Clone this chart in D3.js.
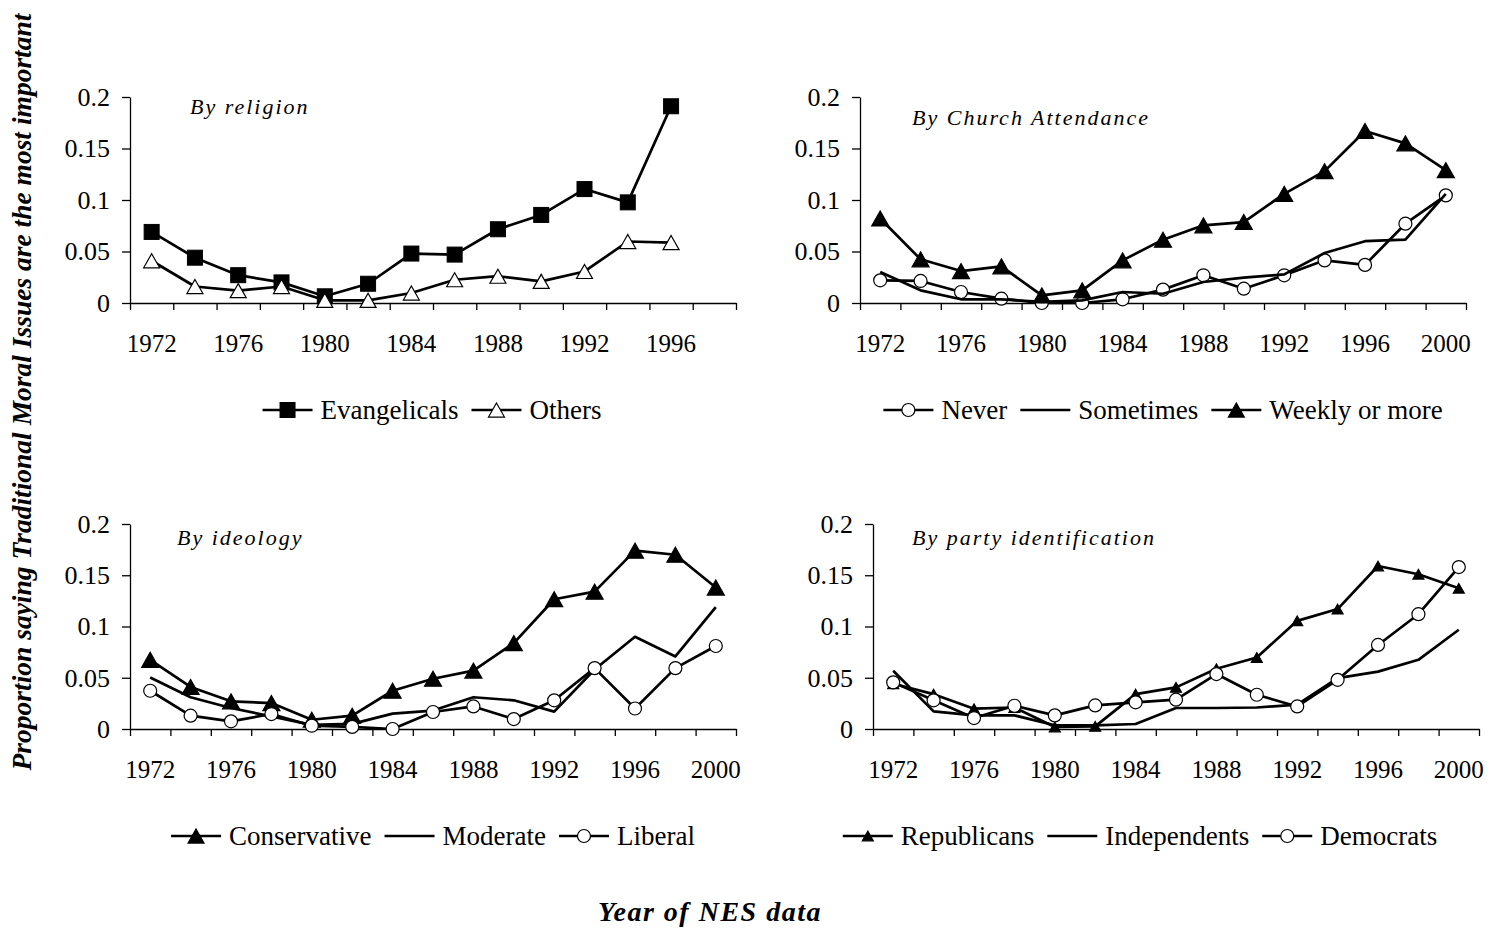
<!DOCTYPE html>
<html>
<head>
<meta charset="utf-8">
<script src="https://cdn.jsdelivr.net/npm/d3@7"></script>
<style>
  body { margin: 0; background: #fff; }
  svg { font-family: "Liberation Serif", "Times New Roman", serif; }
</style>
</head>
<body>
<svg id="chart" width="1490" height="931"></svg>
<script>
// categories
const years = [1972, 1974, 1976, 1978, 1980, 1982, 1984, 1986, 1988, 1990, 1992, 1994, 1996, 1998, 2000];
const religionYears = years.slice(0, 14);
const yTicks = [0, 0.05, 0.1, 0.15, 0.2];

// By religion
const evangelicals = [0.069, 0.044, 0.027, 0.020, 0.0065, 0.0187, 0.048, 0.047, 0.0716, 0.0855, 0.1106, 0.0977, 0.191, null];
const others = [0.041, 0.016, 0.012, 0.016, 0.0026, 0.0026, 0.0097, 0.0226, 0.026, 0.021, 0.0306, 0.0597, 0.0587, null];

// By church attendance
const never = [0.022, 0.0214, 0.0107, 0.0042, 0, 0, 0.0036, 0.013, 0.0269, 0.0139, 0.0269, 0.0414, 0.037, 0.077, 0.1045];
const sometimes = [0.030, 0.0123, 0.0036, 0.0036, 0.001, 0.0026, 0.0107, 0.009, 0.0204, 0.0246, 0.0278, 0.0485, 0.060, 0.0615, 0.106];
const weekly = [0.082, 0.0424, 0.031, 0.0356, 0.0074, 0.0123, 0.0414, 0.0615, 0.0754, 0.0786, 0.106, 0.128, 0.167, 0.155, 0.129];

// By ideology
const conservative = [0.0675, 0.041, 0.027, 0.0253, 0.009, 0.013, 0.0373, 0.049, 0.057, 0.0838, 0.1266, 0.134, 0.174, 0.170, 0.138];
const moderate = [0.0503, 0.031, 0.0205, 0.0123, 0.004, 0.005, 0.015, 0.018, 0.031, 0.028, 0.017, 0.058, 0.090, 0.0708, 0.119];
const liberal = [0.0373, 0.013, 0.0075, 0.0146, 0.0032, 0.002, 0, 0.0166, 0.022, 0.0097, 0.028, 0.0594, 0.020, 0.0594, 0.081];

// By party identification
const republicans = [0.0442, 0.034, 0.0198, 0.021, 0.002, 0.0026, 0.034, 0.0406, 0.0588, 0.0698, 0.1055, 0.117, 0.159, 0.151, 0.1373];
const independents = [0.0568, 0.0172, 0.0133, 0.0133, 0.0036, 0.0036, 0.0049, 0.0205, 0.0205, 0.021, 0.0237, 0.0497, 0.056, 0.0675, 0.0968];
const democrats = [0.0455, 0.028, 0.0107, 0.0227, 0.0133, 0.023, 0.026, 0.0286, 0.0536, 0.0334, 0.022, 0.048, 0.082, 0.112, 0.158];

const panels = [
  {
    title: "By religion", cats: religionYears,
    x0: 130, x1: 736, yTop: 97, yBottom: 303, titleX: 190, titleY: 114,
    legendCx: 432, legendY: 410,
    series: [
      { name: "Evangelicals", values: evangelicals, marker: "square", size: 15, fill: "#000" },
      { name: "Others", values: others, marker: "triangle", size: 16, fill: "#fff" }
    ]
  },
  {
    title: "By Church Attendance", cats: years,
    x0: 860, x1: 1466, yTop: 97, yBottom: 303, titleX: 912, titleY: 125,
    legendCx: 1163, legendY: 410,
    series: [
      { name: "Never", values: never, marker: "circle", size: 6.5, fill: "#fff" },
      { name: "Sometimes", values: sometimes, marker: "none" },
      { name: "Weekly or more", values: weekly, marker: "triangle", size: 17, fill: "#000" }
    ]
  },
  {
    title: "By ideology", cats: years,
    x0: 130, x1: 736, yTop: 524, yBottom: 729, titleX: 177, titleY: 545,
    legendCx: 433, legendY: 836,
    series: [
      { name: "Conservative", values: conservative, marker: "triangle", size: 17, fill: "#000" },
      { name: "Moderate", values: moderate, marker: "none" },
      { name: "Liberal", values: liberal, marker: "circle", size: 6.5, fill: "#fff" }
    ]
  },
  {
    title: "By party identification", cats: years,
    x0: 873, x1: 1479, yTop: 524, yBottom: 729, titleX: 912, titleY: 545,
    legendCx: 1140, legendY: 836,
    series: [
      { name: "Republicans", values: republicans, marker: "triangle", size: 11, fill: "#000" },
      { name: "Independents", values: independents, marker: "none" },
      { name: "Democrats", values: democrats, marker: "circle", size: 6.5, fill: "#fff" }
    ]
  }
];

const svg = d3.select("#chart");

function drawMarker(g, s, cx, cy) {
  if (s.marker === "square") {
    g.append("rect")
      .attr("x", cx - s.size / 2).attr("y", cy - s.size / 2)
      .attr("width", s.size).attr("height", s.size)
      .attr("fill", s.fill).attr("stroke", "#000").attr("stroke-width", 1);
  } else if (s.marker === "triangle") {
    const h = s.size * 0.88;
    g.append("path")
      .attr("d", `M${cx},${cy - h / 2}L${cx + s.size / 2},${cy + h / 2}L${cx - s.size / 2},${cy + h / 2}Z`)
      .attr("fill", s.fill).attr("stroke", "#000").attr("stroke-width", 1.2);
  } else if (s.marker === "circle") {
    g.append("circle")
      .attr("cx", cx).attr("cy", cy).attr("r", s.size)
      .attr("fill", s.fill).attr("stroke", "#000").attr("stroke-width", 1.2);
  }
}

panels.forEach(p => {
  const n = p.cats.length;
  const x = d3.scaleLinear().domain([0, n]).range([p.x0, p.x1]);
  const y = d3.scaleLinear().domain([0, 0.2]).range([p.yBottom, p.yTop]);
  const g = svg.append("g");

  // Y axis
  const yAxis = g.append("g")
    .attr("transform", `translate(${p.x0},0)`)
    .call(d3.axisLeft(y).tickValues(yTicks).tickFormat(d => String(d)).tickSize(8).tickPadding(12).tickSizeOuter(0));
  yAxis.selectAll("text").style("font-size", "26px").attr("fill", "#000").attr("font-family", "Liberation Serif");
  yAxis.selectAll("line").attr("stroke", "#000").attr("stroke-width", 1.3);
  yAxis.select(".domain").attr("stroke", "#000").attr("stroke-width", 1.3);

  // X axis: ticks between categories
  const xAxis = g.append("g")
    .attr("transform", `translate(0,${p.yBottom})`)
    .call(d3.axisBottom(x).tickValues(d3.range(n + 1)).tickFormat("").tickSize(7).tickSizeOuter(0));
  xAxis.selectAll("line").attr("stroke", "#000").attr("stroke-width", 1.3);
  xAxis.select(".domain").attr("stroke", "#000").attr("stroke-width", 1.3);

  // category labels, every other year
  g.selectAll(".xlab")
    .data(p.cats.map((c, i) => ({ c, i })).filter(d => d.i % 2 === 0))
    .enter().append("text")
    .attr("x", d => x(d.i + 0.5))
    .attr("y", p.yBottom + 49)
    .attr("text-anchor", "middle")
    .style("font-size", "25px")
    .text(d => d.c);

  // panel title
  g.append("text")
    .attr("x", p.titleX).attr("y", p.titleY)
    .style("font-size", "22px").style("font-style", "italic")
    .style("letter-spacing", "2px")
    .text(p.title);

  // series
  p.series.forEach(s => {
    const pts = s.values.map((v, i) => ({ v, i }));
    g.append("path")
      .datum(pts)
      .attr("fill", "none").attr("stroke", "#000").attr("stroke-width", 2.7)
      .attr("stroke-linejoin", "round")
      .attr("d", d3.line()
        .defined(d => d.v !== null)
        .x(d => x(d.i + 0.5))
        .y(d => y(d.v)));
    pts.filter(d => d.v !== null).forEach(d => drawMarker(g, s, x(d.i + 0.5), y(d.v)));
  });

  // legend
  const lg = g.append("g");
  let cursor = 0;
  p.series.forEach(s => {
    const item = lg.append("g").attr("transform", `translate(${cursor},0)`);
    item.append("line").attr("x1", 0).attr("x2", 50).attr("y1", 0).attr("y2", 0)
      .attr("stroke", "#000").attr("stroke-width", 2.7);
    const ls = Object.assign({}, s, { size: s.marker === "circle" ? 6.5 : Math.min(s.size, 16) });
    drawMarker(item, ls, 25, 0);
    const t = item.append("text").attr("x", 58).attr("y", 9)
      .style("font-size", "27px").text(s.name);
    cursor += 58 + t.node().getComputedTextLength() + 13;
  });
  const total = cursor - 13;
  lg.attr("transform", `translate(${p.legendCx - total / 2},${p.legendY})`);
});

// axis titles
svg.append("text")
  .attr("transform", "translate(31,392) rotate(-90)")
  .attr("text-anchor", "middle")
  .style("font-size", "27.5px").style("font-weight", "bold").style("font-style", "italic")
  .text("Proportion saying Traditional Moral Issues are the most important");

svg.append("text")
  .attr("x", 710).attr("y", 921)
  .attr("text-anchor", "middle")
  .style("font-size", "28px").style("font-weight", "bold").style("font-style", "italic")
  .style("letter-spacing", "1.5px")
  .text("Year of NES data");
</script>
</body>
</html>
